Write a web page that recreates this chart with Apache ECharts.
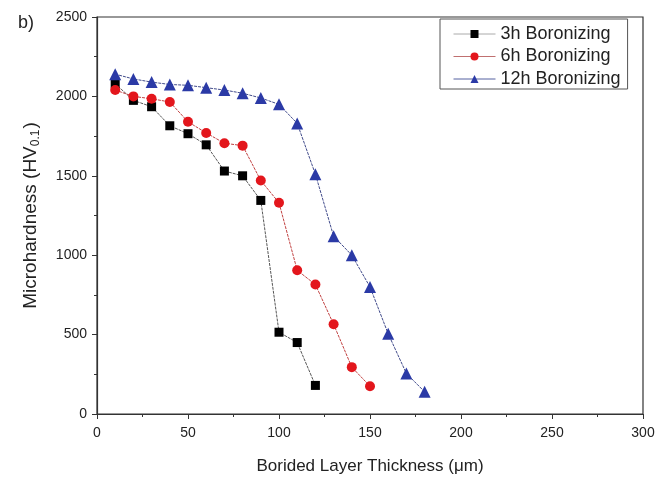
<!DOCTYPE html>
<html><head><meta charset="utf-8">
<script src="https://cdn.jsdelivr.net/npm/echarts@6/dist/echarts.min.js"></script>
<style>html,body{margin:0;padding:0;background:#fff}#c{width:657px;height:477px}</style>
</head><body><div id="c"></div>
<script>
const xs3 = [10,20,30,40,50,60,70,80,90,100,110,120];
const h3 = [2080,1975,1935,1815,1765,1695,1530,1500,1345,515,450,180];
const xs6 = [10,20,30,40,50,60,70,80,90,100,110,120,130,140,150];
const h6 = [2040,2000,1985,1965,1840,1770,1705,1690,1470,1330,905,815,565,295,175];
const xs12 = [10,20,30,40,50,60,70,80,90,100,110,120,130,140,150,160,170,180];
const h12 = [2140,2110,2090,2075,2070,2055,2040,2020,1990,1950,1830,1510,1120,1000,800,505,255,140];
const names = ['3h Boronizing','6h Boronizing','12h Boronizing'];
const xTicks = [0,50,100,150,200,250,300];
const yTicks = [0,500,1000,1500,2000,2500];

const pair = (xs, ys) => xs.map((x,i)=>[x, ys[i]]);
const font = 'Liberation Sans, Arial, sans-serif';
const chart = echarts.init(document.getElementById('c'));
chart.setOption({
  animation:false,
  textStyle:{fontFamily:font},
  title:{text:'b)', left:13, top:9, textStyle:{fontFamily:font, fontSize:18, fontWeight:'normal', color:'#222'}},
  grid:{left:97, right:14, top:17, bottom:63, show:true, borderColor:'#333', borderWidth:1.2, containLabel:false, outerBoundsMode:'none'},
  legend:{
    left:440, top:19, orient:'vertical', itemGap:4.5, itemWidth:42, itemHeight:10,
    padding:[6,7,1,13], borderColor:'#555', borderWidth:1, backgroundColor:'#fff',
    textStyle:{fontFamily:font, fontSize:18, lineHeight:18, color:'#222', padding:[0,0,0,0]},
    data:[
      {name:names[0], itemStyle:{color:'#000'}, lineStyle:{color:'#aaa', type:'solid', width:1}},
      {name:names[1], itemStyle:{color:'#e3161c'}, lineStyle:{color:'#c07070', type:'solid', width:1}},
      {name:names[2], itemStyle:{color:'#2b3aa6'}, lineStyle:{color:'#5560a0', type:'solid', width:1}}
    ]
  },
  xAxis:{
    type:'value', min:xTicks[0], max:xTicks[xTicks.length-1], interval:50,
    name:'Borided Layer Thickness (\u03bcm)', nameLocation:'middle', nameGap:44,
    nameTextStyle:{fontFamily:font, fontSize:17, color:'#222'},
    axisLine:{lineStyle:{color:'#333', width:1.2}},
    axisTick:{inside:false, length:5, lineStyle:{color:'#333'}},
    minorTick:{show:true, splitNumber:2, length:3, lineStyle:{color:'#333'}},
    splitLine:{show:false},
    axisLabel:{fontFamily:font, fontSize:14, color:'#222', margin:12, formatter:v=>String(v)}
  },
  yAxis:{
    type:'value', min:yTicks[0], max:yTicks[yTicks.length-1], interval:500,
    name:'{m|Microhardness (HV}{s|0.1}{m|)}', nameLocation:'middle', nameGap:55, nameRotate:90,
    nameTextStyle:{fontFamily:font, fontSize:19, color:'#222',
      rich:{m:{fontFamily:font, fontSize:19, color:'#222'}, s:{fontFamily:font, fontSize:12, color:'#222', verticalAlign:'bottom', padding:[10,1,0,0]}}},
    axisLine:{show:true, lineStyle:{color:'#333', width:1.2}},
    axisTick:{show:true, inside:false, length:5, lineStyle:{color:'#333'}},
    minorTick:{show:true, splitNumber:2, length:3, lineStyle:{color:'#333'}},
    splitLine:{show:false},
    axisLabel:{fontFamily:font, fontSize:14, color:'#222', margin:10, formatter:v=>String(v)}
  },
  series:[
    {name:names[0], type:'line', data:pair(xs3,h3), symbol:'rect', symbolSize:9,
     itemStyle:{color:'#000'}, lineStyle:{color:'#555', width:1, type:[3,1]}},
    {name:names[1], type:'line', data:pair(xs6,h6), symbol:'circle', symbolSize:10,
     itemStyle:{color:'#e3161c'}, lineStyle:{color:'#c04040', width:1, type:[3,1]}},
    {name:names[2], type:'line', data:pair(xs12,h12), symbol:'triangle', symbolSize:12,
     itemStyle:{color:'#2b3aa6'}, lineStyle:{color:'#404a8a', width:1, type:[3,1]}}
  ]
});
</script></body></html>
